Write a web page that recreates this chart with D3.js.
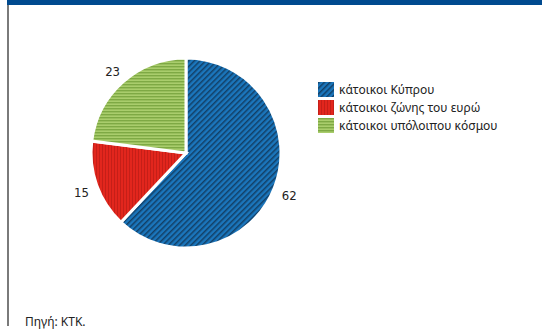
<!DOCTYPE html>
<html>
<head>
<meta charset="utf-8">
<script src="https://cdn.jsdelivr.net/npm/d3@7/dist/d3.min.js"></script>
<style>
  html, body { margin: 0; padding: 0; background: #ffffff; }
  svg { display: block; }
</style>
</head>
<body>
<svg id="chart" width="542" height="331"></svg>
<script>
// Residents' shares (%)
const categories = ["κάτοικοι Κύπρου", "κάτοικοι ζώνης του ευρώ", "κάτοικοι υπόλοιπου κόσμου"];
const values = [62, 15, 23];
const patternIds = ["pat-cy", "pat-euro", "pat-world"];
const sourceNote = "Πηγή: ΚΤΚ.";

const svg = d3.select("#chart");
const W = 542, H = 331;

// Hatch patterns for the slices and legend swatches
const defs = svg.append("defs");

const pBlue = defs.append("pattern")
  .attr("id", patternIds[0]).attr("patternUnits", "userSpaceOnUse")
  .attr("width", 4).attr("height", 4)
  .attr("patternTransform", "rotate(45)");
pBlue.append("rect").attr("width", 4).attr("height", 4).attr("fill", "#1b76bc");
pBlue.append("rect").attr("width", 1.5).attr("height", 4).attr("fill", "#123f66");

const pRed = defs.append("pattern")
  .attr("id", patternIds[1]).attr("patternUnits", "userSpaceOnUse")
  .attr("width", 3).attr("height", 3);
pRed.append("rect").attr("width", 3).attr("height", 3).attr("fill", "#e2261d");
pRed.append("rect").attr("width", 1).attr("height", 3).attr("fill", "#c51f18");

const pGreen = defs.append("pattern")
  .attr("id", patternIds[2]).attr("patternUnits", "userSpaceOnUse")
  .attr("width", 3).attr("height", 3);
pGreen.append("rect").attr("width", 3).attr("height", 3).attr("fill", "#a9cd6c");
pGreen.append("rect").attr("width", 3).attr("height", 1.4).attr("fill", "#7ea944");

// Frame: blue top rule and grey left rule
svg.append("rect").attr("x", 7).attr("y", 0).attr("width", W - 7).attr("height", 5).attr("fill", "#004a8f");
svg.append("rect").attr("x", 7).attr("y", 5).attr("width", 2).attr("height", 321).attr("fill", "#7a7a7a");

// Pie
const cx = 186, cy = 153, R = 95;
const pie = d3.pie().sort(null).value(d => d.v);
const data = pie(values.map((v, i) => ({ v, i })));
const arc = d3.arc().innerRadius(0).outerRadius(R);
const labelArc = d3.arc().innerRadius(111).outerRadius(111);

const g = svg.append("g").attr("transform", `translate(${cx},${cy})`);
g.selectAll("path.slice").data(data).enter().append("path")
  .attr("class", "slice")
  .attr("d", arc)
  .attr("fill", d => `url(#${patternIds[d.data.i]})`)
  .attr("stroke", "#ffffff")
  .attr("stroke-width", 3)
  .attr("stroke-linejoin", "miter");

g.selectAll("text.val").data(data).enter().append("text")
  .attr("class", "val")
  .attr("transform", d => `translate(${labelArc.centroid(d)})`)
  .attr("text-anchor", "middle")
  .attr("dy", "0.5em")
  .attr("font-family", "'DejaVu Sans Condensed', 'Liberation Sans Narrow', sans-serif")
  .attr("font-size", 13)
  .attr("fill", "#222")
  .text(d => d.data.v);

// Legend
const legend = svg.append("g").attr("transform", "translate(318,82)");
const item = legend.selectAll("g").data(categories).enter().append("g")
  .attr("transform", (d, i) => `translate(0,${i * 18})`);
item.append("rect")
  .attr("width", 16).attr("height", 15)
  .attr("fill", (d, i) => `url(#${patternIds[i]})`);
item.append("text")
  .attr("x", 21).attr("y", 7.5).attr("dy", "0.35em")
  .attr("font-family", "'Noto Sans', 'Open Sans', sans-serif")
  .attr("font-size", 12)
  .attr("fill", "#222")
  .text(d => d);

// Source
svg.append("text")
  .attr("x", 25).attr("y", 326)
  .attr("font-family", "'Noto Sans', 'Open Sans', sans-serif")
  .attr("font-size", 12)
  .attr("fill", "#222")
  .text(sourceNote);
</script>
</body>
</html>
